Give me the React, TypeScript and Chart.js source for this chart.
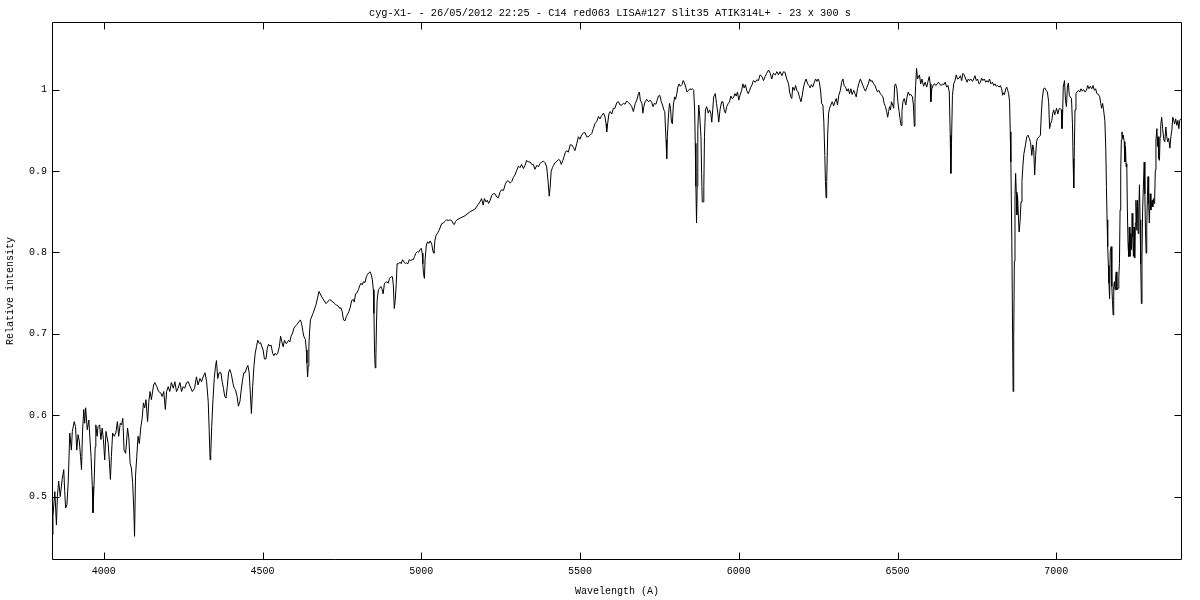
import React, { useEffect, useRef } from "react";
import { Chart, registerables } from "chart.js";

Chart.register(...registerables);

const titleText = "cyg-X1- - 26/05/2012 22:25 - C14 red063 LISA#127 Slit35 ATIK314L+ - 23 x 300 s";
const xLabel = "Wavelength (A)";
const yLabel = "Relative intensity";

const xTickValues = [4000, 4500, 5000, 5500, 6000, 6500, 7000];
const yTickValues = [0.5, 0.6, 0.7, 0.8, 0.9, 1];

const wavelength = [
  3837, 3840, 3846, 3851, 3854, 3858, 3863, 3869, 3874, 3877, 3880, 3884, 3888, 3893, 3898, 3901, 3907, 3911, 3915, 3919,
  3923, 3927, 3930, 3933, 3937, 3940, 3943, 3948, 3953, 3956, 3960, 3964, 3966, 3970, 3973, 3975, 3979, 3982, 3987, 3991,
  3995, 3999, 4003, 4007, 4014, 4018, 4021, 4024, 4028, 4033, 4038, 4043, 4047, 4052, 4056, 4060, 4064, 4069, 4075, 4079,
  4083, 4087, 4091, 4095, 4097, 4100, 4104, 4108, 4112, 4117, 4121, 4125, 4129, 4133, 4138, 4142, 4146, 4150, 4157, 4161,
  4167, 4173, 4180, 4184, 4189, 4194, 4198, 4203, 4208, 4213, 4219, 4224, 4229, 4234, 4240, 4245, 4250, 4255, 4261, 4266,
  4279, 4286, 4292, 4297, 4303, 4308, 4313, 4319, 4324, 4329, 4332, 4335, 4337, 4340, 4344, 4348, 4352, 4355, 4359, 4363,
  4369, 4373, 4377, 4381, 4385, 4389, 4393, 4397, 4402, 4407, 4411, 4415, 4420, 4424, 4429, 4433, 4437, 4441, 4445, 4450,
  4454, 4458, 4462, 4465, 4469, 4473, 4477, 4481, 4485, 4490, 4494, 4498, 4502, 4506, 4511, 4515, 4519, 4523, 4527, 4532,
  4536, 4540, 4544, 4548, 4553, 4557, 4561, 4565, 4569, 4574, 4578, 4582, 4586, 4590, 4595, 4599, 4605, 4610, 4615, 4619,
  4623, 4627, 4630, 4635, 4638, 4640, 4642, 4644, 4646, 4648, 4651,
  4659, 4668, 4678, 4687, 4700, 4712,
  4728, 4733, 4739, 4743, 4747, 4751, 4755, 4760, 4764, 4768, 4772, 4776, 4781, 4786, 4789, 4793, 4797, 4802, 4806, 4810,
  4814, 4818, 4823, 4827, 4831, 4835, 4839, 4843, 4846, 4849, 4851, 4853, 4855, 4857, 4859, 4861, 4865, 4869, 4873, 4877,
  4880, 4884, 4888, 4892, 4896, 4900, 4905, 4909, 4912, 4915, 4918, 4921, 4924, 4929, 4933, 4937, 4941, 4946, 4950, 4954,
  4958, 4962, 4967, 4971, 4975, 4979, 4983, 4988, 4992, 4996, 5000, 5003, 5005, 5007, 5010, 5012, 5016, 5020, 5024, 5028,
  5033, 5037, 5040, 5043, 5047, 5052, 5056, 5060, 5064, 5069, 5075, 5080, 5085, 5090, 5096, 5101, 5104, 5108, 5113,
  5122, 5138, 5154, 5169,
  5185, 5190, 5195, 5199, 5204, 5208, 5212, 5217, 5222, 5227, 5232, 5238, 5243, 5248, 5253, 5259, 5264, 5269, 5274, 5280,
  5285, 5290, 5295, 5301, 5306, 5311, 5316, 5322, 5327, 5332, 5337, 5343, 5348, 5353, 5358, 5364, 5369, 5374, 5379, 5385,
  5390, 5395, 5399, 5403, 5406, 5409, 5413, 5417, 5421, 5427, 5432, 5437, 5441, 5446, 5450, 5454, 5458, 5463, 5469, 5474,
  5479, 5484, 5490, 5495, 5500, 5505, 5511, 5516, 5521, 5526, 5532, 5537, 5542, 5547, 5553, 5558, 5563, 5568, 5574, 5579,
  5582, 5584, 5587, 5591, 5595, 5600, 5605, 5610, 5616, 5621, 5626, 5631, 5637, 5642, 5647, 5652,
  5658, 5663, 5668, 5674, 5679, 5684, 5687, 5690, 5695, 5698, 5701, 5705, 5710, 5716, 5721, 5726, 5730, 5734, 5739, 5743,
  5747, 5751, 5756, 5760, 5764, 5767, 5769, 5771, 5773, 5775, 5779, 5782, 5785, 5788, 5791, 5794, 5798, 5801, 5805, 5808,
  5812, 5816, 5821, 5825, 5829, 5833, 5837, 5842, 5846, 5850, 5854, 5858, 5861, 5863, 5865, 5867, 5869, 5871, 5874, 5877,
  5881, 5883, 5885, 5888, 5890, 5892, 5895, 5899, 5904, 5908, 5912, 5915, 5918, 5921, 5926, 5930, 5934, 5937, 5941, 5946,
  5950, 5954, 5958, 5962, 5967, 5971, 5975, 5979, 5983, 5988, 5992, 5996, 6000, 6004, 6009, 6013, 6017, 6021, 6025, 6030,
  6034, 6038, 6042, 6046, 6052, 6057, 6062, 6067, 6073, 6078, 6083, 6088, 6094,
  6099, 6104, 6109, 6115, 6120, 6125, 6130, 6136, 6141, 6146, 6151, 6157, 6160, 6164, 6167, 6170, 6175, 6179, 6183, 6187,
  6191, 6196, 6200, 6204, 6208, 6212, 6217, 6221, 6225, 6229, 6233, 6238, 6242, 6246, 6250, 6254, 6258, 6261, 6265, 6268,
  6271, 6273, 6275, 6277, 6280, 6283, 6286, 6290, 6294, 6299, 6303, 6307, 6311, 6315, 6320, 6324, 6328, 6332, 6336, 6341,
  6345, 6349, 6353, 6357, 6362, 6366, 6370, 6374, 6378, 6383, 6387, 6391, 6395, 6399, 6404, 6408, 6412, 6416, 6420, 6425,
  6429, 6433, 6437, 6441, 6446, 6450, 6454, 6458, 6462, 6466, 6469, 6472, 6475, 6478, 6481, 6485, 6488, 6491, 6494, 6498,
  6501, 6505, 6508, 6511, 6514, 6517, 6521, 6526, 6530, 6534, 6538, 6542, 6547, 6550, 6553, 6555, 6557, 6560, 6563,
  6569, 6573, 6577, 6582, 6587, 6592, 6596, 6600, 6603, 6605, 6608, 6613, 6617, 6621, 6625, 6629, 6634, 6638, 6642, 6646,
  6650, 6655, 6659, 6663, 6666, 6668, 6670, 6673, 6677, 6681, 6685, 6689, 6694, 6698, 6702, 6706, 6710, 6715, 6719, 6723,
  6727, 6731, 6736, 6740, 6744, 6748, 6752, 6757, 6761, 6765, 6769, 6773, 6778, 6782, 6786, 6790, 6794, 6799, 6803, 6807,
  6811, 6815, 6820, 6824, 6828, 6831, 6834, 6837, 6841, 6844, 6847, 6850, 6853, 6855, 6857, 6860, 6862, 6864, 6866, 6868,
  6870, 6872, 6874, 6876, 6878, 6881, 6883, 6886, 6889, 6892, 6895, 6898, 6903, 6907, 6911, 6915, 6919, 6923, 6926, 6929,
  6932, 6935, 6938, 6941, 6946, 6950, 6953, 6956, 6960, 6964, 6968, 6972, 6976, 6979, 6982, 6986, 6989, 6992, 6995, 6998,
  7001, 7005, 7008, 7011,
  7016, 7018, 7020, 7022, 7026, 7029, 7032, 7035, 7038, 7041, 7044, 7048, 7051, 7053, 7055, 7057, 7059, 7062, 7065, 7070,
  7074, 7078, 7082, 7086, 7091, 7095, 7099, 7103, 7107, 7112, 7116, 7120, 7124, 7128, 7133, 7137, 7140, 7143, 7146, 7149,
  7153, 7156, 7158, 7160, 7162, 7164, 7166, 7168, 7170, 7173, 7175, 7177, 7179, 7181, 7183, 7185, 7187, 7189, 7191, 7195,
  7197, 7199, 7201, 7203, 7205, 7207, 7209, 7211, 7214, 7216, 7218, 7220, 7222, 7224, 7226, 7228, 7230, 7232, 7235, 7237,
  7239, 7241, 7243, 7245, 7247, 7249, 7251, 7254, 7256, 7258, 7260, 7262, 7264, 7266, 7268, 7270, 7272, 7275, 7277, 7279,
  7281, 7283, 7285, 7287, 7289, 7291, 7293, 7296, 7298, 7300, 7302, 7304, 7306, 7308, 7310, 7312, 7314, 7317, 7319, 7321,
  7323, 7325, 7327, 7329, 7332, 7335, 7339, 7342, 7345, 7348, 7351, 7354, 7358, 7361, 7364, 7367, 7370, 7373, 7376, 7380,
  7383, 7386, 7389, 7392,
];

const intensity = [
  0.453, 0.476, 0.506, 0.465, 0.500, 0.519, 0.500, 0.521, 0.533, 0.506, 0.486, 0.490, 0.517, 0.578, 0.557, 0.580, 0.592, 0.586, 0.557, 0.576,
  0.568, 0.549, 0.533, 0.578, 0.607, 0.590, 0.609, 0.582, 0.594, 0.574, 0.549, 0.512, 0.480, 0.521, 0.561, 0.588, 0.574, 0.586, 0.588, 0.570,
  0.584, 0.570, 0.545, 0.580, 0.565, 0.541, 0.521, 0.549, 0.578, 0.574, 0.578, 0.592, 0.574, 0.590, 0.588, 0.596, 0.557, 0.553, 0.584, 0.572,
  0.541, 0.535, 0.517, 0.480, 0.451, 0.525, 0.549, 0.574, 0.565, 0.586, 0.596, 0.615, 0.609, 0.619, 0.592, 0.617, 0.629, 0.619, 0.637, 0.640,
  0.635, 0.629, 0.627, 0.623, 0.629, 0.607, 0.629, 0.635, 0.629, 0.640, 0.633, 0.641, 0.629, 0.633, 0.640, 0.629, 0.635, 0.633, 0.640, 0.641,
  0.629, 0.633, 0.647, 0.637, 0.645, 0.641, 0.647, 0.652, 0.641, 0.617, 0.582, 0.545, 0.553, 0.586, 0.619, 0.645, 0.660, 0.667, 0.645, 0.652,
  0.652, 0.641, 0.633, 0.623, 0.621, 0.635, 0.652, 0.656, 0.650, 0.639, 0.633, 0.631, 0.623, 0.611, 0.617, 0.631, 0.643, 0.652, 0.652, 0.658,
  0.661, 0.652, 0.625, 0.602, 0.635, 0.660, 0.676, 0.684, 0.692, 0.688, 0.689, 0.684, 0.680, 0.669, 0.669, 0.682, 0.687, 0.685, 0.686, 0.676,
  0.673, 0.676, 0.674, 0.676, 0.684, 0.697, 0.690, 0.684, 0.692, 0.688, 0.689, 0.692, 0.690, 0.697, 0.701, 0.707, 0.710, 0.712, 0.715, 0.717,
  0.713, 0.703, 0.697, 0.693, 0.680, 0.664, 0.647, 0.660, 0.684, 0.701, 0.717,
  0.725, 0.735, 0.752, 0.745, 0.737, 0.742,
  0.737, 0.735, 0.734, 0.731, 0.732, 0.727, 0.717, 0.716, 0.721, 0.724, 0.727, 0.732, 0.741, 0.742, 0.739, 0.749, 0.750, 0.754, 0.759, 0.762,
  0.760, 0.764, 0.763, 0.770, 0.773, 0.775, 0.776, 0.772, 0.766, 0.754, 0.725, 0.676, 0.658, 0.668, 0.713, 0.741, 0.754, 0.756, 0.758, 0.754,
  0.749, 0.762, 0.763, 0.764, 0.762, 0.768, 0.770, 0.770, 0.760, 0.731, 0.741, 0.760, 0.786, 0.786, 0.788, 0.786, 0.791, 0.788, 0.786, 0.787,
  0.786, 0.791, 0.790, 0.791, 0.791, 0.795, 0.799, 0.801, 0.800, 0.803, 0.805, 0.799, 0.786, 0.774, 0.768, 0.791, 0.809, 0.813, 0.811, 0.814,
  0.810, 0.801, 0.799, 0.815, 0.821, 0.824, 0.827, 0.831, 0.835, 0.836, 0.838, 0.840, 0.839, 0.840, 0.839, 0.835, 0.834, 0.838, 0.840,
  0.842, 0.845, 0.850, 0.853,
  0.862, 0.866, 0.858, 0.866, 0.862, 0.864, 0.860, 0.864, 0.870, 0.872, 0.872, 0.868, 0.867, 0.874, 0.877, 0.876, 0.883, 0.887, 0.888, 0.885,
  0.887, 0.892, 0.895, 0.901, 0.906, 0.904, 0.908, 0.903, 0.907, 0.913, 0.911, 0.911, 0.908, 0.908, 0.902, 0.907, 0.905, 0.909, 0.911, 0.912,
  0.910, 0.905, 0.889, 0.869, 0.880, 0.899, 0.904, 0.907, 0.910, 0.912, 0.914, 0.913, 0.908, 0.913, 0.918, 0.923, 0.925, 0.923, 0.932, 0.932,
  0.929, 0.925, 0.934, 0.942, 0.939, 0.944, 0.947, 0.947, 0.942, 0.942, 0.944, 0.946, 0.952, 0.958, 0.961, 0.967, 0.964, 0.968, 0.971, 0.966,
  0.958, 0.948, 0.958, 0.970, 0.973, 0.970, 0.977, 0.977, 0.984, 0.985, 0.981, 0.981, 0.983, 0.982, 0.986, 0.984,
  0.982, 0.979, 0.973, 0.983, 0.987, 0.995, 0.997, 0.987, 0.983, 0.971, 0.979, 0.985, 0.988, 0.985, 0.987, 0.984, 0.979, 0.983, 0.982, 0.987,
  0.992, 0.993, 0.985, 0.981, 0.975, 0.973, 0.954, 0.938, 0.915, 0.942, 0.971, 0.983, 0.977, 0.960, 0.958, 0.981, 0.991, 0.988, 0.995, 1.003,
  1.007, 1.004, 1.006, 1.011, 1.008, 1.003, 0.997, 0.999, 1.001, 1.000, 1.001, 0.999, 0.975, 0.934, 0.881, 0.836, 0.881, 0.950, 0.981, 0.968,
  0.942, 0.897, 0.862, 0.862, 0.881, 0.942, 0.975, 0.979, 0.971, 0.975, 0.971, 0.960, 0.975, 0.991, 0.995, 0.983, 0.971, 0.960, 0.975, 0.985,
  0.985, 0.975, 0.971, 0.979, 0.983, 0.985, 0.992, 0.989, 0.990, 0.995, 0.992, 0.997, 0.987, 0.993, 0.999, 1.007, 1.002, 1.006, 0.999, 0.995,
  0.999, 1.003, 1.006, 1.011, 1.009, 1.012, 1.011, 1.018, 1.016, 1.011, 1.016, 1.020, 1.024,
  1.020, 1.013, 1.020, 1.018, 1.022, 1.018, 1.022, 1.017, 1.022, 1.021, 1.013, 1.007, 0.997, 0.991, 0.989, 1.003, 0.999, 1.005, 0.999, 0.997,
  0.991, 0.985, 0.993, 1.003, 1.009, 1.013, 1.007, 1.005, 1.002, 1.006, 1.003, 1.009, 1.013, 1.010, 1.013, 1.009, 0.997, 0.983, 0.981, 0.960,
  0.919, 0.887, 0.867, 0.887, 0.944, 0.971, 0.977, 0.981, 0.985, 0.980, 0.985, 0.989, 0.981, 0.993, 0.999, 1.009, 1.013, 1.005, 1.003, 0.998,
  1.001, 0.995, 1.001, 0.994, 0.999, 0.995, 0.991, 1.001, 1.007, 1.013, 1.009, 1.005, 1.001, 0.998, 1.003, 1.007, 1.013, 1.010, 1.011, 1.007,
  1.005, 1.001, 0.997, 0.999, 0.995, 0.993, 0.991, 0.983, 0.979, 0.973, 0.966, 0.973, 0.979, 0.975, 0.985, 0.981, 0.977, 1.005, 1.007, 1.001,
  0.985, 0.973, 0.964, 0.956, 0.973, 0.985, 0.989, 0.981, 0.991, 0.997, 0.993, 0.994, 0.991, 0.981, 0.955, 0.985, 1.005, 1.026, 1.013,
  1.018, 1.007, 1.013, 1.004, 1.009, 1.003, 1.010, 1.016, 1.007, 0.985, 1.001, 1.006, 1.007, 1.005, 1.007, 1.009, 1.006, 1.005, 1.007, 1.006,
  1.009, 1.003, 1.005, 0.997, 0.944, 0.897, 0.934, 0.993, 1.007, 1.011, 1.018, 1.013, 1.014, 1.017, 1.011, 1.020, 1.018, 1.013, 1.009, 1.013,
  1.011, 1.013, 1.010, 1.013, 1.017, 1.011, 1.013, 1.007, 1.009, 1.014, 1.011, 1.013, 1.009, 1.011, 1.009, 1.013, 1.007, 1.009, 1.005, 1.007,
  1.004, 1.005, 1.003, 1.005, 1.001, 0.993, 0.996, 0.994, 1.001, 1.003, 0.999, 0.995, 0.985, 0.948, 0.911, 0.813, 0.723, 0.629, 0.695, 0.789,
  0.870, 0.897, 0.874, 0.846, 0.870, 0.842, 0.825, 0.838, 0.862, 0.887, 0.907, 0.921, 0.932, 0.942, 0.944, 0.940, 0.935, 0.919, 0.932, 0.926,
  0.895, 0.919, 0.936, 0.940, 0.942, 0.944, 0.971, 0.989, 1.001, 1.002, 0.999, 0.997, 0.985, 0.952, 0.958, 0.962, 0.971, 0.975, 0.969, 0.973,
  0.977, 0.970, 0.975, 0.977,
  0.975, 0.952, 0.970, 1.003, 1.011, 0.987, 0.979, 1.003, 1.008, 0.993, 0.991, 0.989, 0.958, 0.915, 0.879, 0.930, 0.975, 0.995, 0.997, 0.999,
  0.997, 1.001, 0.998, 1.000, 0.997, 0.999, 1.005, 1.001, 1.004, 1.001, 1.005, 0.999, 1.001, 0.995, 0.994, 0.991, 0.983, 0.977, 0.983, 0.975,
  0.962, 0.926, 0.881, 0.840, 0.807, 0.784, 0.762, 0.743, 0.801, 0.807, 0.758, 0.741, 0.723, 0.758, 0.764, 0.754, 0.770, 0.776, 0.754, 0.756,
  0.770, 0.786, 0.852, 0.901, 0.938, 0.948, 0.940, 0.944, 0.936, 0.911, 0.930, 0.905, 0.909, 0.852, 0.811, 0.795, 0.831, 0.795, 0.823, 0.803,
  0.848, 0.819, 0.795, 0.831, 0.793, 0.836, 0.864, 0.827, 0.864, 0.823, 0.852, 0.883, 0.840, 0.786, 0.737, 0.795, 0.852, 0.889, 0.911, 0.872,
  0.827, 0.799, 0.831, 0.868, 0.893, 0.860, 0.836, 0.872, 0.852, 0.860, 0.864, 0.856, 0.866, 0.860, 0.868, 0.901, 0.938, 0.952, 0.930, 0.942,
  0.915, 0.913, 0.942, 0.956, 0.966, 0.952, 0.938, 0.936, 0.954, 0.942, 0.936, 0.940, 0.928, 0.942, 0.950, 0.966, 0.962, 0.958, 0.964, 0.956,
  0.962, 0.952, 0.962, 0.964,
];

const xRange = [3837, 7396];
const yRange = [0.422, 1.083];

const FONT = "'Liberation Mono', 'DejaVu Sans Mono', monospace";

const framePlugin = {
  id: "gnuplotFrame",
  afterDatasetsDraw(chart: any) {
    const { ctx, chartArea, scales } = chart;
    const L = Math.round(chartArea.left) + 0.5;
    const R = Math.round(chartArea.right) - 0.5;
    const T = Math.round(chartArea.top) + 0.5;
    const B = Math.round(chartArea.bottom) - 0.5;
    const len = 7;
    ctx.save();
    ctx.strokeStyle = "#000";
    ctx.lineWidth = 1;
    ctx.beginPath();
    ctx.rect(L, T, R - L, B - T);
    for (const v of xTickValues) {
      const px = Math.round(scales.x.getPixelForValue(v)) + 0.5;
      ctx.moveTo(px, B);
      ctx.lineTo(px, B - len);
      ctx.moveTo(px, T);
      ctx.lineTo(px, T + len);
    }
    for (const v of yTickValues) {
      const py = Math.round(scales.y.getPixelForValue(v)) + 0.5;
      ctx.moveTo(L, py);
      ctx.lineTo(L + len, py);
      ctx.moveTo(R, py);
      ctx.lineTo(R - len, py);
    }
    ctx.stroke();
    // title, centred where gnuplot puts it
    ctx.fillStyle = "#000";
    ctx.font = `10.3px ${FONT}`;
    ctx.textAlign = "center";
    ctx.textBaseline = "middle";
    ctx.fillText(titleText, 610, 13);
    ctx.restore();
  },
};

export default function App() {
  const canvasRef = useRef<HTMLCanvasElement | null>(null);

  useEffect(() => {
    document.body.style.margin = "0";
    const canvas = canvasRef.current;
    if (!canvas) return;
    const points = wavelength.map((w, i) => ({ x: w, y: intensity[i] }));
    const chart = new Chart(canvas, {
      type: "line",
      data: {
        datasets: [
          {
            data: points,
            borderColor: "#000000",
            borderWidth: 1,
            pointRadius: 0,
            tension: 0,
            fill: false,
          },
        ],
      },
      options: {
        animation: false,
        responsive: false,
        devicePixelRatio: 1,
        parsing: false,
        layout: { padding: { left: 0, right: 18, top: 22, bottom: 0 } },
        plugins: {
          legend: { display: false },
          tooltip: { enabled: false },
          title: { display: false },
        },
        scales: {
          x: {
            type: "linear",
            min: xRange[0],
            max: xRange[1],
            grid: { display: false, drawTicks: false },
            border: { display: false },
            afterBuildTicks: (scale: any) => {
              scale.ticks = xTickValues.map((v) => ({ value: v }));
            },
            afterFit: (scale: any) => {
              scale.height = 40;
            },
            ticks: {
              autoSkip: false,
              maxRotation: 0,
              padding: 5,
              color: "#000",
              font: { family: FONT, size: 10 },
              callback: (v: any) => String(v),
            },
            title: {
              display: true,
              text: xLabel,
              color: "#000",
              font: { family: FONT, size: 10 },
              padding: { top: 0, bottom: 3 },
            },
          },
          y: {
            type: "linear",
            min: yRange[0],
            max: yRange[1],
            grid: { display: false, drawTicks: false },
            border: { display: false },
            afterBuildTicks: (scale: any) => {
              scale.ticks = yTickValues.map((v) => ({ value: v }));
            },
            afterFit: (scale: any) => {
              scale.width = 52;
            },
            ticks: {
              autoSkip: false,
              padding: 5,
              color: "#000",
              font: { family: FONT, size: 10 },
              callback: (v: any) => String(v),
            },
            title: {
              display: true,
              text: yLabel,
              color: "#000",
              font: { family: FONT, size: 10 },
              padding: { top: 4, bottom: 0 },
            },
          },
        },
      },
      plugins: [framePlugin],
    });
    return () => chart.destroy();
  }, []);

  return (
    <div style={{ position: "absolute", left: 0, top: 0, width: 1200, height: 600, background: "#fff" }}>
      <canvas ref={canvasRef} width={1200} height={600} style={{ width: 1200, height: 600, display: "block" }} />
    </div>
  );
}
